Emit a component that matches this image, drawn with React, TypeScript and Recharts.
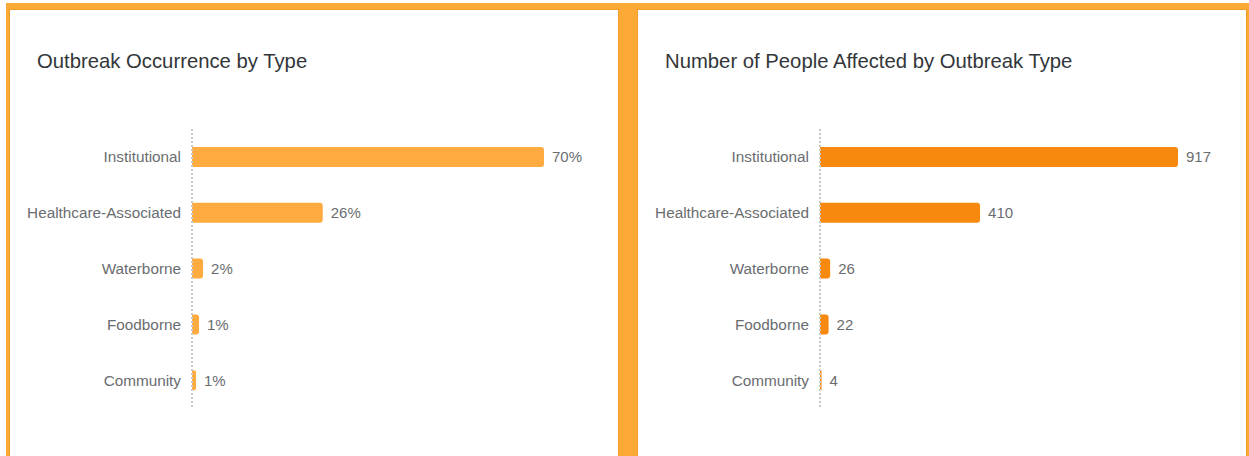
import { Bar, BarChart, LabelList, XAxis, YAxis } from "recharts";

const CATEGORIES = ["Institutional", "Healthcare-Associated", "Waterborne", "Foodborne", "Community"];
const OCCURRENCE_PCT = [70, 26, 2.2, 1.4, 0.8];
const PEOPLE_AFFECTED = [917, 410, 26, 22, 4];

const FRAME = "#fda935";
const FRAME_EDGE = "#ee9d2c";
const BAR_LIGHT = "#ffab40";
const BAR_DARK = "#f8890f";
const TITLE = "#32363a";
const LABEL = "#6a6d70";
const AXIS_DOTS = "#c9c9c9";
const FONT = "'Liberation Sans', Arial, sans-serif";

const PANEL_W = 608;
const PANEL_H = 446;

function Panel({
  left,
  title,
  values,
  color,
  rightMargin,
  format,
}: {
  left: number;
  title: string;
  values: number[];
  color: string;
  rightMargin: number;
  format: (v: number) => string;
}) {
  const data = CATEGORIES.map((name, i) => ({ name, value: values[i] }));
  return (
    <div
      style={{
        position: "absolute",
        left,
        top: 10,
        width: PANEL_W,
        height: PANEL_H,
        background: "#fff",
        boxShadow: `0 0 0 1px ${FRAME_EDGE}`,
      }}
    >
      <div
        style={{
          position: "absolute",
          left: 27,
          top: 40,
          fontSize: 20.3,
          lineHeight: "23px",
          color: TITLE,
          fontFamily: FONT,
          whiteSpace: "nowrap",
        }}
      >
        {title}
      </div>
      <div style={{ position: "absolute", left: 0, top: 0 }}>
        <BarChart
          width={PANEL_W}
          height={PANEL_H}
          data={data}
          layout="vertical"
          margin={{ top: 119, right: rightMargin, bottom: 48, left: 0 }}
          barSize={20}
          style={{ fontFamily: FONT }}
        >
          <XAxis type="number" domain={[0, "dataMax"]} hide />
          <YAxis
            type="category"
            dataKey="name"
            width={182}
            tickLine={false}
            tickMargin={5}
            tick={{ fill: LABEL, fontSize: 15.3 }}
            axisLine={{ stroke: AXIS_DOTS, strokeDasharray: "2 2", strokeWidth: 2 }}
          />
          <Bar dataKey="value" fill={color} radius={[0, 3, 3, 0]} isAnimationActive={false}>
            <LabelList
              dataKey="value"
              position="right"
              offset={8}
              fill={LABEL}
              fontSize={15}
              formatter={(v: unknown) => format(Number(v))}
            />
          </Bar>
        </BarChart>
      </div>
    </div>
  );
}

export default function App() {
  return (
    <div
      style={{
        position: "fixed",
        left: 0,
        top: 0,
        width: 1249,
        height: 456,
        background: "#fff",
        overflow: "hidden",
      }}
    >
      <div
        style={{
          position: "absolute",
          left: 6,
          top: 3,
          width: 1243,
          height: 453,
          background: FRAME,
        }}
      />
      <Panel
        left={10}
        title="Outbreak Occurrence by Type"
        values={OCCURRENCE_PCT}
        color={BAR_LIGHT}
        rightMargin={74}
        format={(v) => `${Math.round(v)}%`}
      />
      <Panel
        left={638}
        title="Number of People Affected by Outbreak Type"
        values={PEOPLE_AFFECTED}
        color={BAR_DARK}
        rightMargin={68}
        format={(v) => String(v)}
      />
    </div>
  );
}
